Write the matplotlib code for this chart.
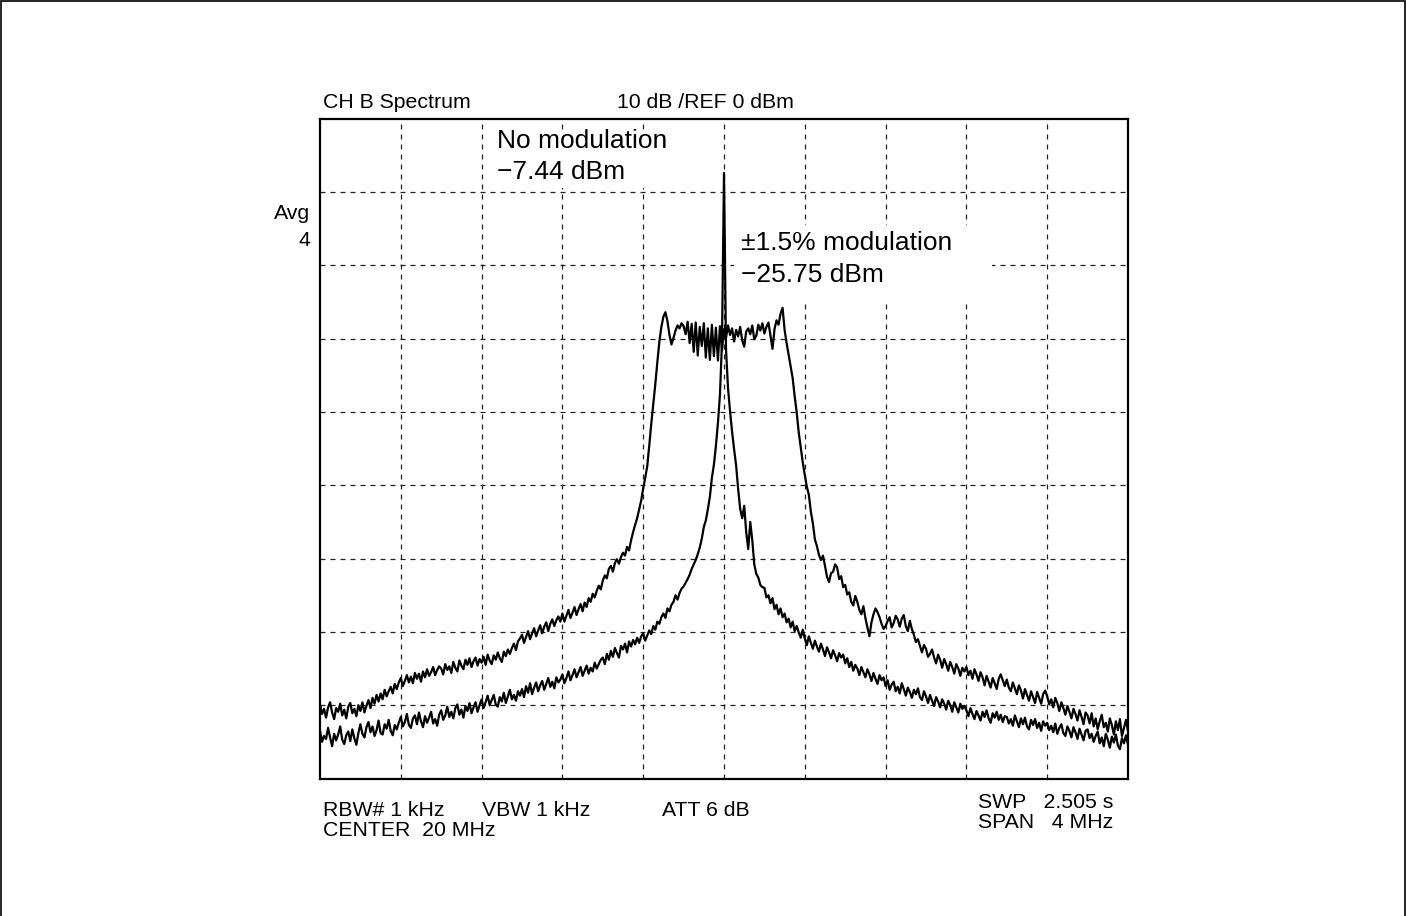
import numpy as np
import matplotlib
matplotlib.use("Agg")
import matplotlib.pyplot as plt
from matplotlib.patches import Rectangle

plt.rcParams['font.family'] = ['Liberation Sans', 'DejaVu Sans']

# trace values in dBm, 401 sweep points from 18 MHz to 22 MHz
no_mod = [
    -83.5, -85.0, -84.2, -84.6, -83.1, -84.4, -85.6, -83.9, -84.8, -84.0,
    -82.9, -84.7, -85.3, -84.1, -83.6, -84.9, -83.3, -84.5, -85.4, -83.8,
    -82.6, -83.9, -84.4, -83.0, -82.3, -83.7, -82.9, -84.2, -83.4, -82.1,
    -83.8, -84.0, -82.6, -83.2, -82.0, -83.5, -84.1, -82.7, -83.3, -82.4,
    -81.6, -82.9, -82.3, -81.2, -82.7, -83.1, -81.8, -81.4, -82.6, -81.0,
    -82.2, -83.0, -81.5, -82.4, -81.7, -80.9, -82.5, -81.9, -82.8, -81.3,
    -80.7, -82.0, -81.4, -80.2, -81.6, -80.9, -81.8, -80.4, -79.9, -81.3,
    -80.6, -81.7, -80.1, -80.8, -79.7, -81.1, -80.3, -79.6, -80.9, -80.0,
    -79.2, -80.4, -79.6, -78.7, -80.0, -79.3, -78.6, -79.9, -80.2, -78.9,
    -79.5, -78.3, -79.7, -78.8, -77.9, -79.2, -78.6, -79.4, -78.1, -78.7,
    -77.8, -78.9, -77.4, -78.3, -77.0, -78.5, -77.6, -76.9, -78.1, -77.3,
    -76.7, -77.9, -77.1, -76.3, -77.5, -76.8, -77.7, -76.2, -76.9, -76.5,
    -75.8, -77.0, -76.3, -75.4, -76.6, -75.9, -75.1, -76.2, -75.5, -74.8,
    -76.0, -75.3, -74.6, -75.7, -74.9, -75.4, -74.2, -75.0, -74.4, -73.8,
    -73.5, -74.4, -73.0, -73.8, -72.6, -73.4, -72.2, -72.9, -73.5, -71.9,
    -72.4, -71.6, -72.8, -71.3, -72.0, -71.1, -71.7, -70.8, -71.5, -70.6,
    -70.2, -71.2, -70.5, -69.8, -70.3, -69.2, -69.7, -68.6, -68.9, -68.0,
    -67.5, -68.1, -66.8, -67.2, -66.3, -65.9, -65.0, -65.6, -64.7, -64.1,
    -63.8, -63.3, -62.8, -62.2, -61.4, -60.8, -60.2, -59.4, -58.5, -57.3,
    -55.7, -54.8, -53.3, -51.6, -49.0, -47.2, -44.6, -41.5, -37.6, -30.5,
    -7.4,
    -31.5, -36.8, -39.9, -42.7, -45.1, -47.3, -50.5, -53.2, -54.5, -52.8,
    -56.4, -58.7, -55.0, -57.5, -60.8, -62.1, -62.6, -63.6, -63.9,
    -64.0, -65.3, -65.0, -66.1, -65.4, -66.9, -66.3, -67.6, -66.8, -68.0,
    -67.5, -68.7, -68.2, -69.4, -68.6, -69.9, -69.2, -70.1, -70.8, -69.7,
    -70.9, -71.8, -70.6, -71.5, -72.3, -71.2, -72.0, -72.7, -71.6, -72.4,
    -73.3, -72.1, -72.8, -73.6, -72.5, -73.2, -74.0, -72.9, -73.5, -73.1,
    -74.3, -73.6, -74.8, -74.1, -75.3, -74.5, -75.0, -75.9, -74.8, -75.5,
    -76.2, -75.1, -75.8, -76.7, -75.6, -76.4, -77.1, -75.9, -76.6, -76.2,
    -77.4, -76.6, -77.9, -77.2, -76.8, -78.1, -77.5, -78.4, -77.0, -77.8,
    -78.7, -77.6, -78.2, -79.0, -77.9, -78.5, -77.7, -78.9, -79.3, -78.1,
    -78.8, -79.7, -78.6, -79.4, -80.1, -78.9, -79.5, -80.3, -79.2, -79.8,
    -80.6, -79.4, -80.0, -80.9, -79.6, -80.3, -81.0, -79.8, -80.5, -80.1,
    -80.7, -81.5, -80.4, -81.2, -81.9, -80.8, -81.4, -82.1, -80.9, -81.6,
    -80.7, -81.8, -82.4, -81.1, -81.7, -80.9, -82.0, -81.3, -82.3, -81.5,
    -81.6, -82.5, -81.9, -82.8, -81.4, -82.2, -83.0, -81.8, -82.6, -81.7,
    -82.9, -83.3, -82.0, -82.7, -81.9, -83.1, -82.4, -83.5, -82.2, -82.8,
    -82.4, -83.4, -82.8, -83.7, -82.5, -83.9, -83.1, -82.6, -83.8, -84.2,
    -82.9, -83.5, -84.4, -83.0, -83.7, -84.6, -83.2, -84.0, -84.8, -83.5,
    -83.3, -84.5, -83.9, -85.0, -84.2, -83.6, -85.2, -84.4, -85.6, -83.9,
    -84.7, -85.8, -84.3, -85.1, -84.0, -85.5, -86.0, -84.5, -85.2, -84.1,
    -85.4,
]

mod_15 = [
    -79.9, -81.2, -80.5, -81.7, -80.3, -79.6, -81.0, -81.9, -80.4, -80.9,
    -79.8, -81.4, -80.6, -81.8, -80.2, -79.7, -81.1, -80.5, -81.5, -80.0,
    -80.8, -79.6, -81.0, -80.1, -79.3, -80.4, -79.0, -79.8, -78.6, -79.5,
    -78.4, -79.2, -77.9, -78.8, -78.1, -77.5, -78.4, -77.1, -77.8, -76.9,
    -76.3, -77.4, -76.7, -75.9, -76.9, -76.1, -77.0, -75.6, -76.4, -75.7,
    -76.8, -75.4, -76.2, -75.1, -76.0, -75.5, -74.8, -75.9, -75.2, -74.7,
    -75.0, -75.8, -74.4, -75.2, -74.7, -75.6, -74.1, -74.9, -75.4, -73.9,
    -74.6, -75.1, -73.8, -74.5, -73.6, -74.8, -74.0, -73.5, -74.6, -73.7,
    -74.2, -73.4, -74.5, -73.1, -73.9, -74.4, -73.2, -73.8, -72.8, -73.6,
    -74.1, -72.7, -73.3, -72.4, -73.0, -72.2, -71.6, -72.5, -71.3, -70.9,
    -70.4, -71.5, -70.7, -69.9, -71.0, -70.2, -69.5, -70.6, -69.8, -69.1,
    -70.2, -69.3, -68.7, -69.9, -68.9, -68.3, -69.2, -68.4, -67.9, -68.6,
    -67.5, -68.6, -67.8, -67.0, -68.1, -67.4, -66.6, -67.7, -66.9, -66.2,
    -67.2, -66.0, -66.6, -65.4, -65.9, -64.8, -65.3, -64.4, -63.7, -64.2,
    -63.0, -62.3, -62.7, -61.4, -61.0, -61.8, -60.6, -60.1, -60.7, -59.8,
    -59.2, -59.6, -58.4, -58.9, -57.5, -56.4, -55.4, -54.5, -53.3, -52.1,
    -50.4, -49.0, -47.4, -44.6, -41.6, -38.9, -36.2, -33.2, -30.4, -28.4,
    -27.0,
    -26.4, -27.6, -29.5, -30.8, -29.9, -28.9, -28.2, -28.6, -27.9,
    -28.3, -29.4, -27.7, -30.6, -28.0, -31.8, -27.8, -32.3, -28.4, -31.0,
    -27.9, -32.6, -28.6, -32.9, -28.1, -32.4, -28.5, -33.0, -28.3, -31.6,
    -28.7, -29.9, -28.2, -29.5, -28.6, -30.4, -28.8, -29.7, -28.4, -30.2,
    -31.1, -29.0, -28.6, -29.4, -28.2, -30.1, -29.6, -28.1, -28.9, -27.9,
    -29.3, -28.4, -27.8, -29.6, -31.4, -28.7, -27.5, -28.1, -26.6, -25.8,
    -28.8, -30.6, -32.2, -33.8, -35.4, -37.9, -40.1, -42.8, -44.9, -46.9,
    -48.6, -50.2, -51.3, -53.6, -55.2, -57.4, -58.3, -59.5, -60.2, -59.6,
    -61.0, -62.5, -63.2, -62.0, -61.8, -60.8, -61.2, -62.8, -62.4, -63.9,
    -63.6, -64.9, -64.6, -65.9, -66.4, -65.1, -65.9, -67.0, -67.6, -66.5,
    -68.1, -69.4, -70.6, -68.7, -67.6, -66.8, -67.3, -68.0, -68.9, -69.6,
    -69.2, -68.5, -68.0, -69.4, -68.8, -67.8, -68.3, -69.3, -68.2, -67.7,
    -69.2, -69.9, -68.5, -69.6, -70.4, -71.4, -71.0, -71.9, -72.8, -71.8,
    -72.3, -73.4, -73.0, -72.4, -73.5, -74.3, -73.1, -73.8, -74.9, -73.7,
    -74.4, -75.3, -74.1, -74.8, -75.7, -74.4, -75.0, -76.0, -74.9, -75.4,
    -74.8, -75.9, -75.3, -76.4, -75.1, -75.8, -76.7, -75.5, -76.2, -77.3,
    -76.0, -76.8, -77.6, -76.3, -77.0, -77.8, -76.4, -75.8, -76.6, -77.4,
    -76.5, -77.6, -78.1, -76.9, -77.7, -78.5, -77.3, -78.0, -79.1, -77.8,
    -78.6, -79.4, -78.1, -78.9, -79.7, -78.2, -79.0, -79.8, -78.5, -78.0,
    -78.8, -79.9, -79.2, -80.3, -79.0, -79.7, -80.8, -79.6, -80.4, -81.3,
    -80.1, -80.9, -81.8, -80.5, -81.2, -82.1, -80.7, -81.6, -82.6, -81.0,
    -81.4, -82.5, -81.1, -82.9, -81.8, -83.3, -82.2, -81.3, -83.0, -82.4,
    -83.6, -81.8, -82.7, -84.0, -82.2, -83.4, -81.9, -84.2, -83.1, -82.0,
    -83.5,
]

center_mhz = 20.0
span_mhz = 4.0
ref_dbm = 0
db_per_div = 10
n_ydiv = 9

W, H = 1406, 916
fig = plt.figure(figsize=(W / 100, H / 100), dpi=100)


def fpos(x, y):
    # pixel position -> figure fraction
    return x / W, 1 - y / H


ax = fig.add_axes([320 / W, 1 - 778.5 / H, 808 / W, (778.5 - 118.7) / H])
f0 = center_mhz - span_mhz / 2
f1 = center_mhz + span_mhz / 2
ax.set_xlim(f0, f1)
ax.set_ylim(ref_dbm - n_ydiv * db_per_div, ref_dbm)
ax.set_xticks(np.linspace(f0, f1, 11)[1:-1])
ax.set_yticks(np.arange(ref_dbm - (n_ydiv - 1) * db_per_div, ref_dbm, db_per_div))
ax.tick_params(length=0, labelbottom=False, labelleft=False)
ax.grid(True, color='#222222', linestyle=(0, (4, 4)), linewidth=0.9)
for s in ax.spines.values():
    s.set_linewidth(1.6)

x1 = np.linspace(f0, f1, len(no_mod))
x2 = np.linspace(f0, f1, len(mod_15))
ax.plot(x2, mod_15, color='black', lw=1.6, zorder=3)
ax.plot(x1, no_mod, color='black', lw=1.6, zorder=3)

# white patches behind the annotations (they hide the grid)
for (xa, ya, xb, yb) in [(490, 131, 672, 188), (734, 225, 992, 303)]:
    pa = fpos(xa, yb)
    pb = fpos(xb, ya)
    fig.add_artist(Rectangle(pa, pb[0] - pa[0], pb[1] - pa[1],
                             facecolor='white', edgecolor='none', zorder=2.5))

big = 19
small = 15.3
fig.text(*fpos(497, 141), 'No modulation', fontsize=big, va='center', zorder=4)
fig.text(*fpos(497, 172), '\u22127.44 dBm', fontsize=big, va='center', zorder=4)
fig.text(*fpos(741, 243), '\u00b11.5% modulation', fontsize=big, va='center', zorder=4)
fig.text(*fpos(741, 275), '\u221225.75 dBm', fontsize=big, va='center', zorder=4)

fig.text(*fpos(323, 103), 'CH B Spectrum', fontsize=small, va='center')
fig.text(*fpos(617, 103), '10 dB /REF 0 dBm', fontsize=small, va='center')
fig.text(*fpos(310, 214), 'Avg', fontsize=small, va='center', ha='right')
fig.text(*fpos(310, 240), '4', fontsize=small, va='center', ha='right')

fig.text(*fpos(323, 810), 'RBW# 1 kHz', fontsize=small, va='center')
fig.text(*fpos(482, 810), 'VBW 1 kHz', fontsize=small, va='center')
fig.text(*fpos(662, 810), 'ATT 6 dB', fontsize=small, va='center')
fig.text(*fpos(323, 831), 'CENTER  20 MHz', fontsize=small, va='center')
fig.text(*fpos(978, 802), 'SWP   2.505 s', fontsize=small, va='center')
fig.text(*fpos(978, 823), 'SPAN   4 MHz', fontsize=small, va='center')

# outer frame of the screenshot
fig.add_artist(Rectangle((0.0007, -0.01), 0.9986, 1.0093, transform=fig.transFigure,
                         facecolor='none', edgecolor='black', lw=1.2))

fig.savefig('out.png', dpi=100)
